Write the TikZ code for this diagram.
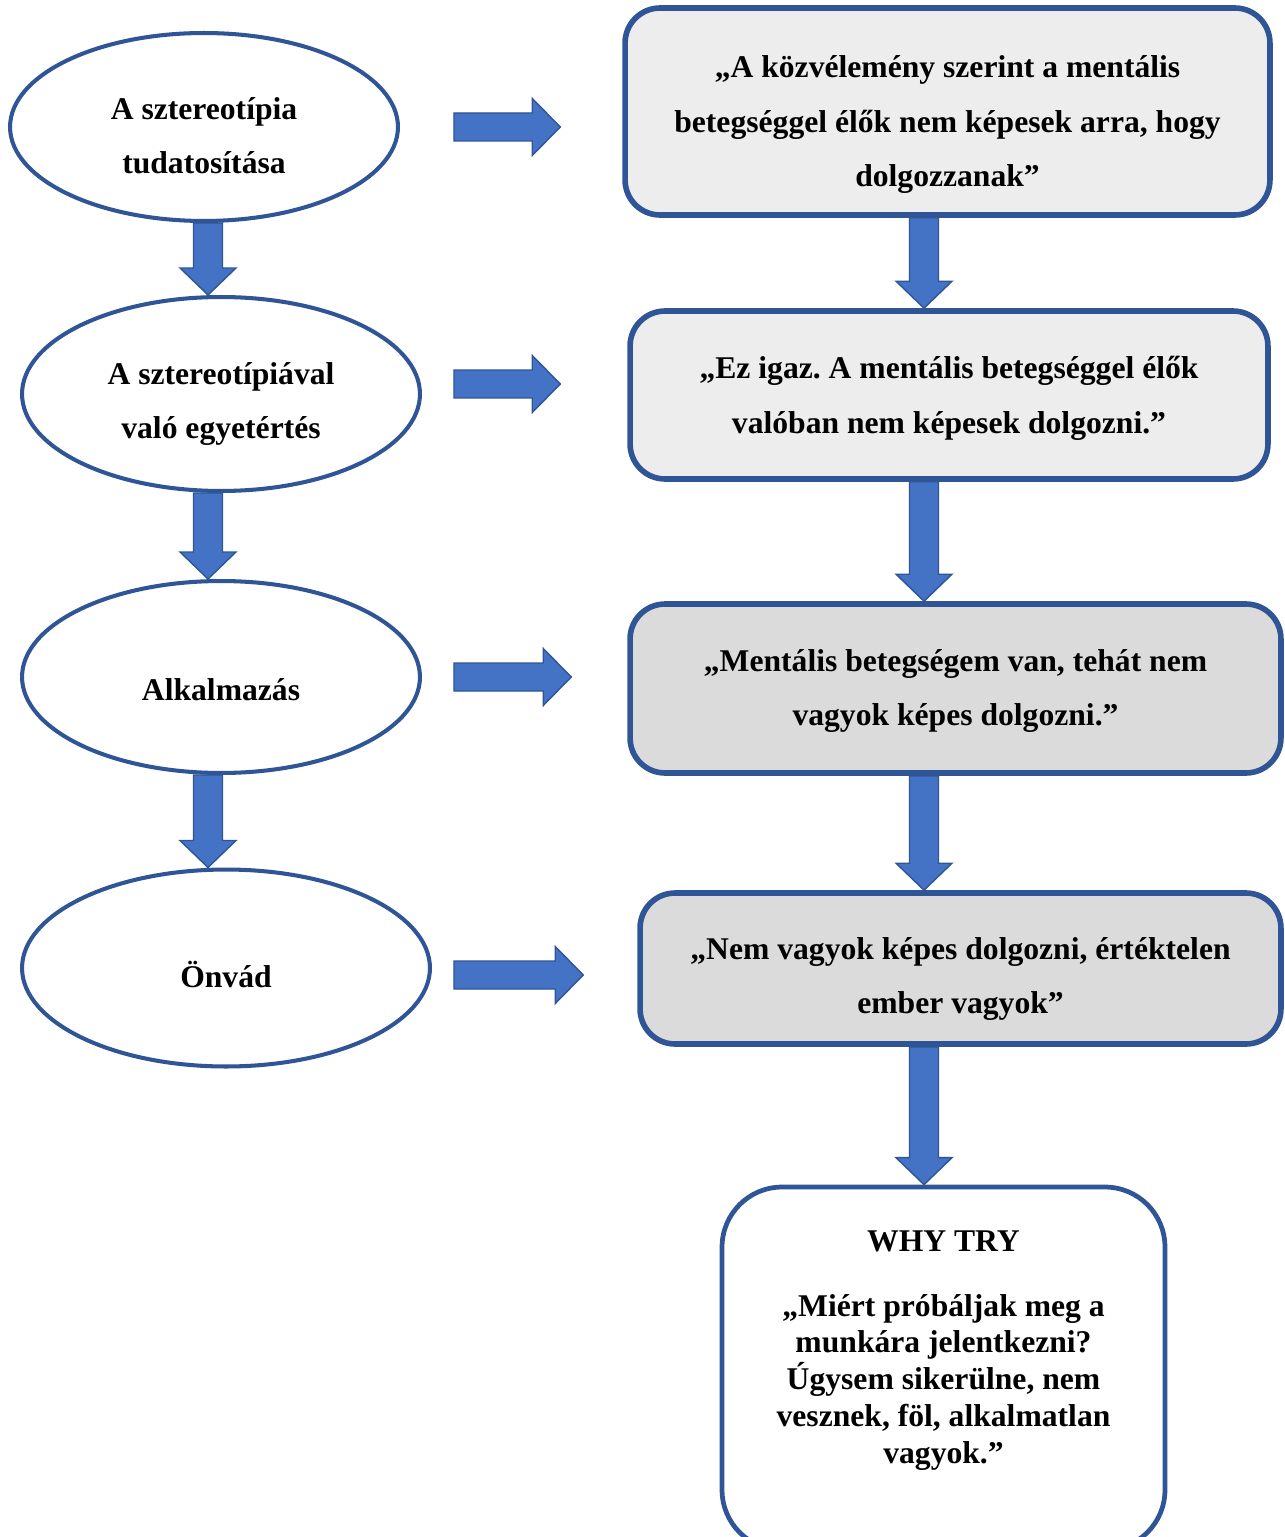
\documentclass[tikz,border=0pt]{standalone}
\usepackage{fontspec}
\setmainfont{Liberation Serif}
\frenchspacing
\usetikzlibrary{shapes.geometric,calc}

\definecolor{outline}{HTML}{2F5597}
\definecolor{arrowblue}{HTML}{4472C4}
\definecolor{boxlight}{HTML}{EDEDED}
\definecolor{boxdark}{HTML}{DBDBDB}

% push the first line down a little
\newcommand{\lift}[1]{\rule{0pt}{#1}}

% block arrows between two points
\newcommand{\varrow}[2]{%
  \filldraw[blockarrow] let \p1=(#1), \p2=(#2) in
    (\x1-0.29cm,\y1) -- (\x1+0.29cm,\y1) -- (\x1+0.29cm,\y2+0.54cm)
    -- (\x1+0.56cm,\y2+0.54cm) -- (\x1,\y2) -- (\x1-0.56cm,\y2+0.54cm)
    -- (\x1-0.29cm,\y2+0.54cm) -- cycle;}
\newcommand{\harrow}[2]{%
  \filldraw[blockarrow] let \p1=(#1), \p2=(#2) in
    (\x1,\y1+0.28cm) -- (\x2-0.56cm,\y1+0.28cm) -- (\x2-0.56cm,\y1+0.57cm)
    -- (\x2,\y1) -- (\x2-0.56cm,\y1-0.57cm) -- (\x2-0.56cm,\y1-0.28cm)
    -- (\x1,\y1-0.28cm) -- cycle;}

\begin{document}
\begin{tikzpicture}[x=0.02cm, y=-0.02cm,
    font=\fontsize{18}{31}\selectfont\bfseries,
    stage/.style={ellipse, draw=outline, line width=2.3pt, fill=white, align=center, inner sep=0pt},
    thought/.style={rectangle, rounded corners=0.7cm, draw=outline, line width=3.2pt, align=center, inner sep=0pt},
    blockarrow/.style={fill=arrowblue, draw=outline, line width=0.8pt}]
            %\draw[lightgray] (0, 0) grid (1284, 1537);
            \useasboundingbox (0, 0) rectangle (1284, 1537);
            \coordinate (lcol) at (208, 0);
            \coordinate (rcol) at (924, 0);

            \node[stage, minimum width=7.76cm, minimum height=3.76cm] (e1) at (204, 127) {\lift{22.6pt}A sztereotípia\\tudatosítása};
            \node[stage, minimum width=7.96cm, minimum height=3.88cm] (e2) at (221, 394) {\lift{23.7pt}A sztereotípiával\\való egyetértés};
            \node[stage, minimum width=7.96cm, minimum height=3.84cm] (e3) at (221, 677) {\lift{26.5pt}Alkalmazás};
            \node[stage, minimum width=8.16cm, minimum height=3.94cm] (e4) at (226, 968) {\lift{22pt}Önvád};

            \node[thought, fill=boxlight, minimum width=12.9cm, minimum height=4.14cm] (b1) at (947.5, 111.5)
                {\lift{27.8pt}„A közvélemény szerint a mentális\\betegséggel élők nem képesek arra, hogy\\dolgozzanak”};
            \node[thought, fill=boxlight, minimum width=12.76cm, minimum height=3.36cm] (b2) at (949, 395)
                {\lift{16.3pt}„Ez igaz. A mentális betegséggel élők\\valóban nem képesek dolgozni.”};
            \node[thought, fill=boxdark, minimum width=13.02cm, minimum height=3.38cm] (b3) at (955.5, 688.5)
                {\lift{15.3pt}„Mentális betegségem van, tehát nem\\vagyok képes dolgozni.”};
            \node[thought, fill=boxdark, minimum width=12.82cm, minimum height=3.02cm] (b4) at (960.5, 968.5)
                {\lift{24.4pt}„Nem vagyok képes dolgozni, értéktelen\\ember vagyok”};
            \node[thought, fill=white, rounded corners=1.2cm, line width=2.7pt, minimum width=8.86cm, minimum height=7.26cm,
                font=\fontsize{18}{21}\selectfont\bfseries] (b5) at (943.5, 1368.5)
                {WHY TRY\\[0.56cm]„Miért próbáljak meg a\\munkára jelentkezni?\\Úgysem sikerülne, nem\\vesznek, föl, alkalmatlan\\vagyok.”\rule[-0.86cm]{0pt}{0pt}};

            \varrow{e1.south -| lcol}{e2.north};
            \varrow{e2.south -| lcol}{e3.north};
            \varrow{e3.south -| lcol}{e4.north};

            \harrow{$(e1.east)+(54, 0)$}{$(b1.west)+(-62, 0)$};
            \harrow{$(e2.east)+(32, -10)$}{$(b2.west)+(-67, 0)$};
            \harrow{$(e3.east)+(32, 0)$}{$(b3.west)+(-56, 0)$};
            \harrow{$(e4.east)+(22, 7)$}{$(b4.west)+(-54, 0)$};

            \varrow{b1.south -| rcol}{b2.north};
            \varrow{b2.south -| rcol}{b3.north};
            \varrow{b3.south -| rcol}{b4.north};
            \varrow{b4.south -| rcol}{b5.north};
        \end{tikzpicture}
\end{document}
